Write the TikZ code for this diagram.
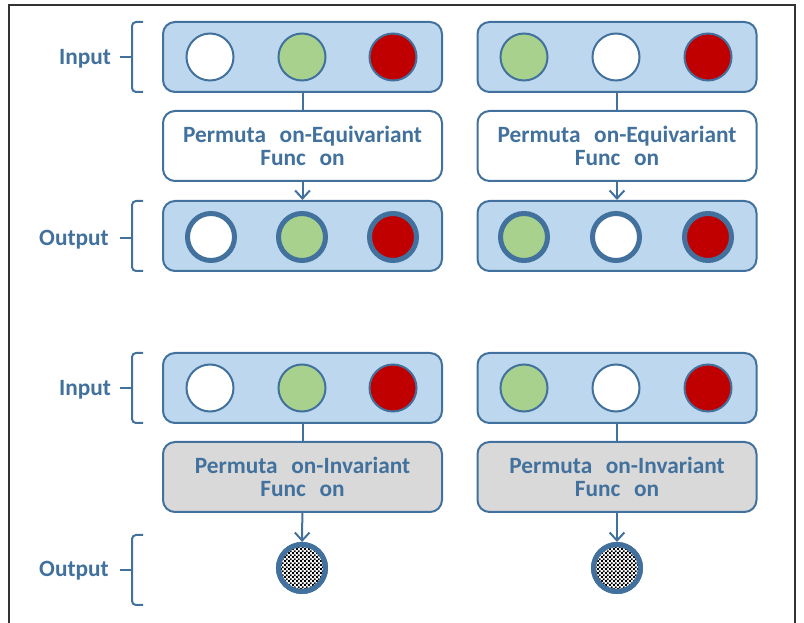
\documentclass[tikz,border=0pt]{standalone}
\usepackage{fontspec}
\setmainfont{Carlito}
\usetikzlibrary{arrows.meta,patterns.meta}
\definecolor{dblue}{HTML}{41719C}
\definecolor{lblue}{HTML}{BDD7EE}
\definecolor{lgreen}{HTML}{A9D18E}
\definecolor{dred}{HTML}{C00000}
\definecolor{lgray}{HTML}{D9D9D9}
\tikzdeclarepattern{name=finecheck, type=uncolored,
  bounding box={(0pt,0pt) and (2.8pt,2.8pt)}, tile size={(2.8pt,2.8pt)},
  code={\fill (0pt,0pt) rectangle (1.4pt,1.4pt); \fill (1.4pt,1.4pt) rectangle (2.8pt,2.8pt);}}
\begin{document}
\begin{tikzpicture}[x=0.75pt,y=-0.75pt,
  box/.style={draw=dblue, line width=1.5pt, rounded corners=9pt,
    minimum width=209.25pt, minimum height=52.5pt, inner sep=0pt},
  inbox/.style={box, fill=lblue},
  fbox/.style={box, text=dblue, align=center,
    font=\bfseries\fontsize{17.5}{17.5}\selectfont},
  eqbox/.style={fbox, fill=white},
  invbox/.style={fbox, fill=lgray},
  dot/.style={circle, draw=dblue, line width=1.5pt, minimum size=35.25pt, inner sep=0pt},
  odot/.style={dot, line width=3.75pt},
  lab/.style={text=dblue, font=\bfseries\fontsize{17.5}{17.5}\selectfont, anchor=base},
  brk/.style={draw=dblue, line width=1.5pt, rounded corners=3pt},
  conn/.style={draw=dblue, line width=1.5pt},
  arr/.style={conn, -{Straight Barb[length=6pt,width=11pt]}}
]
\useasboundingbox (0,0) rectangle (804,623);
% frame
\draw[black!80, line width=0.8pt] (9,623) -- (9,5) -- (795,5) -- (795,623);

% ---------- top: equivariant ----------
\node[inbox] (in1) at (302.5,57) {};
\node[inbox] (in2) at (617,57) {};
\node[dot, fill=white]  (a1) at (210,57) {};
\node[dot, fill=lgreen] (a2) at (302,57) {};
\node[dot, fill=dred]   (a3) at (393,57) {};
\node[dot, fill=lgreen] (b1) at (524,57) {};
\node[dot, fill=white]  (b2) at (616,57) {};
\node[dot, fill=dred]   (b3) at (708,57) {};

\node[eqbox] (f1) at (302.5,146) {Permuta\phantom{ti}on-Equivariant\\Func\phantom{ti}on};
\node[eqbox] (f2) at (617,146) {Permuta\phantom{ti}on-Equivariant\\Func\phantom{ti}on};

\node[inbox] (o1) at (302.5,236) {};
\node[inbox] (o2) at (617,236) {};
\node[odot, fill=white]  (c1) at (211,237) {};
\node[odot, fill=lgreen] (c2) at (302,237) {};
\node[odot, fill=dred]   (c3) at (393,237) {};
\node[odot, fill=lgreen] (d1) at (524,237) {};
\node[odot, fill=white]  (d2) at (616,237) {};
\node[odot, fill=dred]   (d3) at (708,237) {};

\draw[conn] (in1) -- (f1);
\draw[conn] (in2) -- (f2);
\draw[arr] (f1) -- (o1);
\draw[arr] (f2) -- (o2);

% ---------- bottom: invariant ----------
\node[inbox] (in3) at (302.5,388) {};
\node[inbox] (in4) at (617,388) {};
\node[dot, fill=white]  (e1) at (210,388) {};
\node[dot, fill=lgreen] (e2) at (302,388) {};
\node[dot, fill=dred]   (e3) at (393,388) {};
\node[dot, fill=lgreen] (g1) at (524,388) {};
\node[dot, fill=white]  (g2) at (616,388) {};
\node[dot, fill=dred]   (g3) at (708,388) {};

\node[invbox] (f3) at (302.5,477) {Permuta\phantom{ti}on-Invariant\\Func\phantom{ti}on};
\node[invbox] (f4) at (617,477) {Permuta\phantom{ti}on-Invariant\\Func\phantom{ti}on};

\node[odot, fill=white, pattern=finecheck, pattern color=black] (r1) at (302,568) {};
\node[odot, fill=white, pattern=finecheck, pattern color=black] (r2) at (617,568) {};
\node[odot, draw=dblue] at (r1) {};
\node[odot, draw=dblue] at (r2) {};

\draw[conn] (in3) -- (f3);
\draw[conn] (in4) -- (f4);
\draw[arr] (f3) -- (r1);
\draw[arr] (f4) -- (r2);

% ---------- labels and brackets ----------
\node[lab] (l1) at (85,65) {Input};
\node[lab] (l2) at (74,246) {Output};
\node[lab] (l3) at (85,396) {Input};
\node[lab] (l4) at (74,577) {Output};

\draw[brk] (143,22) -- (132,22) -- (132,92) -- (143,92);
\draw[conn] (120,57) -- (132,57);
\draw[brk] (143,201) -- (132,201) -- (132,271) -- (143,271);
\draw[conn] (120,238) -- (132,238);
\draw[brk] (143,353) -- (132,353) -- (132,423) -- (143,423);
\draw[conn] (120,388) -- (132,388);
\draw[brk] (143,535) -- (132,535) -- (132,605) -- (143,605);
\draw[conn] (120,570) -- (132,570);
\end{tikzpicture}
\end{document}
